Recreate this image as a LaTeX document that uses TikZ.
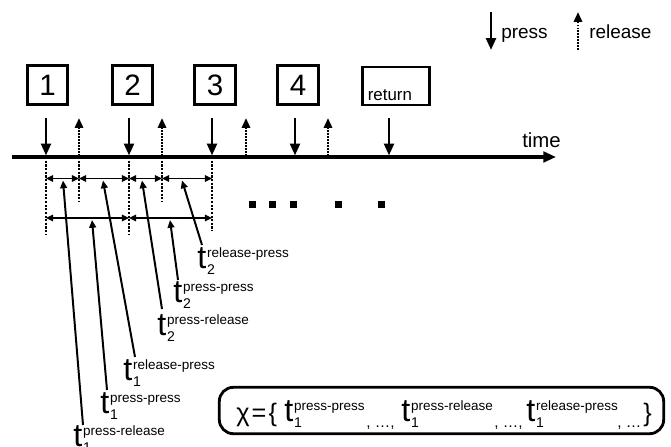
\documentclass[tikz,border=0pt]{standalone}
\usepackage{fontspec}
\setmainfont{Liberation Sans}
\usetikzlibrary{arrows.meta,calc}

% t with a stacked superscript and subscript
\newcommand{\tdur}[2]{t\kern0.6pt\rlap{\raisebox{-4.5pt}{\fontsize{10}{10}\selectfont #2}}\raisebox{7.5pt}{\fontsize{9.6}{10}\selectfont #1}}

\begin{document}
\begin{tikzpicture}[x=0.025cm,y=-0.025cm,
  key/.style={draw,line width=2pt,minimum width=29pt,minimum height=28pt,inner sep=0pt,font=\fontsize{21}{21}\selectfont},
  pressarrow/.style={line width=2pt,-{Triangle[length=8.5pt,width=7pt]}},
  releasearrow/.style={line width=2pt,dash pattern=on 1.3pt off 0.8pt,-{Triangle[length=7pt,width=5.8pt]}},
  guide/.style={line width=1pt,dash pattern=on 1.6pt off 1pt},
  span/.style={line width=1.1pt,{Triangle[length=5pt,width=4.5pt]}-{Triangle[length=5pt,width=4.5pt]}},
  pointer/.style={line width=1.4pt,-{Triangle[length=5.5pt,width=4.8pt]}},
  dur/.style={anchor=base west,inner sep=0pt,font=\fontsize{23}{23}\selectfont},
  txt/.style={anchor=base west,inner sep=0pt,font=\fontsize{13.5}{14}\selectfont}]
\useasboundingbox (0,0) rectangle (671,447);

% legend
\node[txt] (lgpress) at (501,38) {press};
\node[txt] (lgrelease) at (589,38) {release};
\draw[pressarrow] (491,12) -- (491,50);
\draw[releasearrow] (578,50) -- (578,12);

% keys
\node[key] (k1) at (47.5,85) {1};
\node[key] (k2) at (132.5,85) {2};
\node[key] (k3) at (215,85) {3};
\node[key] (k4) at (298,85) {4};
\node[key,minimum width=48pt,minimum height=27pt,text width=40pt,align=left,text height=23.5pt,text depth=3.5pt,font=\fontsize{12}{12}\selectfont] (kret) at (396,86) {return};

% time axis
\coordinate (t0) at (12,157);
\coordinate (tend) at (556,157);
\draw[line width=2.3pt,-{Triangle[length=9pt,width=7.5pt]}] (t0) -- (tend);
\node[txt,font=\fontsize{14.5}{15}\selectfont] (timelbl) at (522,147) {time};

\coordinate (p1) at (46,157);
\coordinate (p2) at (129,157);
\coordinate (p3) at (212,157);
\coordinate (p4) at (295,157);
\coordinate (p5) at (389,157);
\coordinate (r1) at (79,157);
\coordinate (r2) at (162,157);
\coordinate (r3) at (246,157);
\coordinate (r4) at (328,157);

\draw[pressarrow] ($(p1)+(0,-39)$) -- ($(p1)+(0,-1.5)$);
\draw[pressarrow] ($(p2)+(0,-39)$) -- ($(p2)+(0,-1.5)$);
\draw[pressarrow] ($(p3)+(0,-39)$) -- ($(p3)+(0,-1.5)$);
\draw[pressarrow] ($(p4)+(0,-39)$) -- ($(p4)+(0,-1.5)$);
\draw[pressarrow] ($(p5)+(0,-39)$) -- ($(p5)+(0,-1.5)$);
\draw[releasearrow] ($(r1)+(0,-1.5)$) -- ($(r1)+(0,-39)$);
\draw[releasearrow] ($(r2)+(0,-1.5)$) -- ($(r2)+(0,-39)$);
\draw[releasearrow] ($(r3)+(0,-1.5)$) -- ($(r3)+(0,-39)$);
\draw[releasearrow] ($(r4)+(0,-1.5)$) -- ($(r4)+(0,-39)$);

% guides and spans
\draw[guide] (p1) -- ++(0,78);
\draw[guide] (p2) -- ++(0,78);
\draw[guide] (p3) -- ++(0,74);
\draw[guide] (r1) -- ++(0,45);
\draw[guide] (r2) -- ++(0,45);

\draw[span] (p1 |- 0,178.5) -- (r1 |- 0,178.5);
\draw[span] (r1 |- 0,178.5) -- (p2 |- 0,178.5);
\draw[span] (p2 |- 0,178.5) -- (r2 |- 0,178.5);
\draw[span] (r2 |- 0,178.5) -- (p3 |- 0,178.5);
\draw[span] (p1 |- 0,218) -- (p2 |- 0,218);
\draw[span] (p2 |- 0,218) -- (p3 |- 0,218);

% more events
\fill (248.5,200.5) rectangle +(7,7);
\fill (268.5,200.5) rectangle +(7,7);
\fill (289.5,200.5) rectangle +(7,7);
\fill (334.5,200.5) rectangle +(7,7);
\fill (377.5,200.5) rectangle +(7,7);

% durations
\node[dur] (d1) at (73,446) {\tdur{press-release}{1}};
\node[dur] (d2) at (100,413) {\tdur{press-press}{1}};
\node[dur] (d3) at (123,380) {\tdur{release-press}{1}};
\node[dur] (d4) at (157,335) {\tdur{press-release}{2}};
\node[dur] (d5) at (173,302) {\tdur{press-press}{2}};
\node[dur] (d6) at (197,268) {\tdur{release-press}{2}};

\coordinate (a1) at (63,180.5);
\coordinate (a2) at (92,220);
\coordinate (a3) at (103,180.5);
\coordinate (a4) at (142,180.5);
\coordinate (a5) at (170,220);
\coordinate (a6) at (182,180.5);

\draw[pointer] ($(d1.base west)+(10,-21)$) -- (a1);
\draw[pointer] ($(d2.base west)+(7,-23)$) -- (a2);
\draw[pointer] ($(d3.base west)+(12,-23)$) -- (a3);
\draw[pointer] ($(d4.base west)+(5,-26)$) -- (a4);
\draw[pointer] ($(d5.base west)+(5,-22)$) -- (a5);
\draw[pointer] ($(d6.base west)+(5,-23)$) -- (a6);

% feature vector
\node[draw,line width=2pt,rounded corners=10pt,minimum width=316pt,minimum height=33pt,inner sep=0pt] (fbox) at (441.5,410.5) {};
\node[dur,font=\fontsize{18}{18}\selectfont] (f0) at (236,421) {χ\kern1.5pt=\kern1.5pt\{};
\node[dur] (f1) at (284,421) {\tdur{press-press}{1}};
\node[dur,font=\fontsize{11}{11}\selectfont] (f2) at (366,427) {, \ldots,};
\node[dur] (f3) at (401,421) {\tdur{press-release}{1}};
\node[dur,font=\fontsize{11}{11}\selectfont] (f4) at (494,427) {, \ldots,};
\node[dur] (f5) at (526,421) {\tdur{release-press}{1}};
\node[dur,font=\fontsize{11}{11}\selectfont] (f6) at (617,427) {, \ldots};
\node[dur,font=\fontsize{18}{18}\selectfont] (f7) at (643,421) {\}};
\end{tikzpicture}
\end{document}
